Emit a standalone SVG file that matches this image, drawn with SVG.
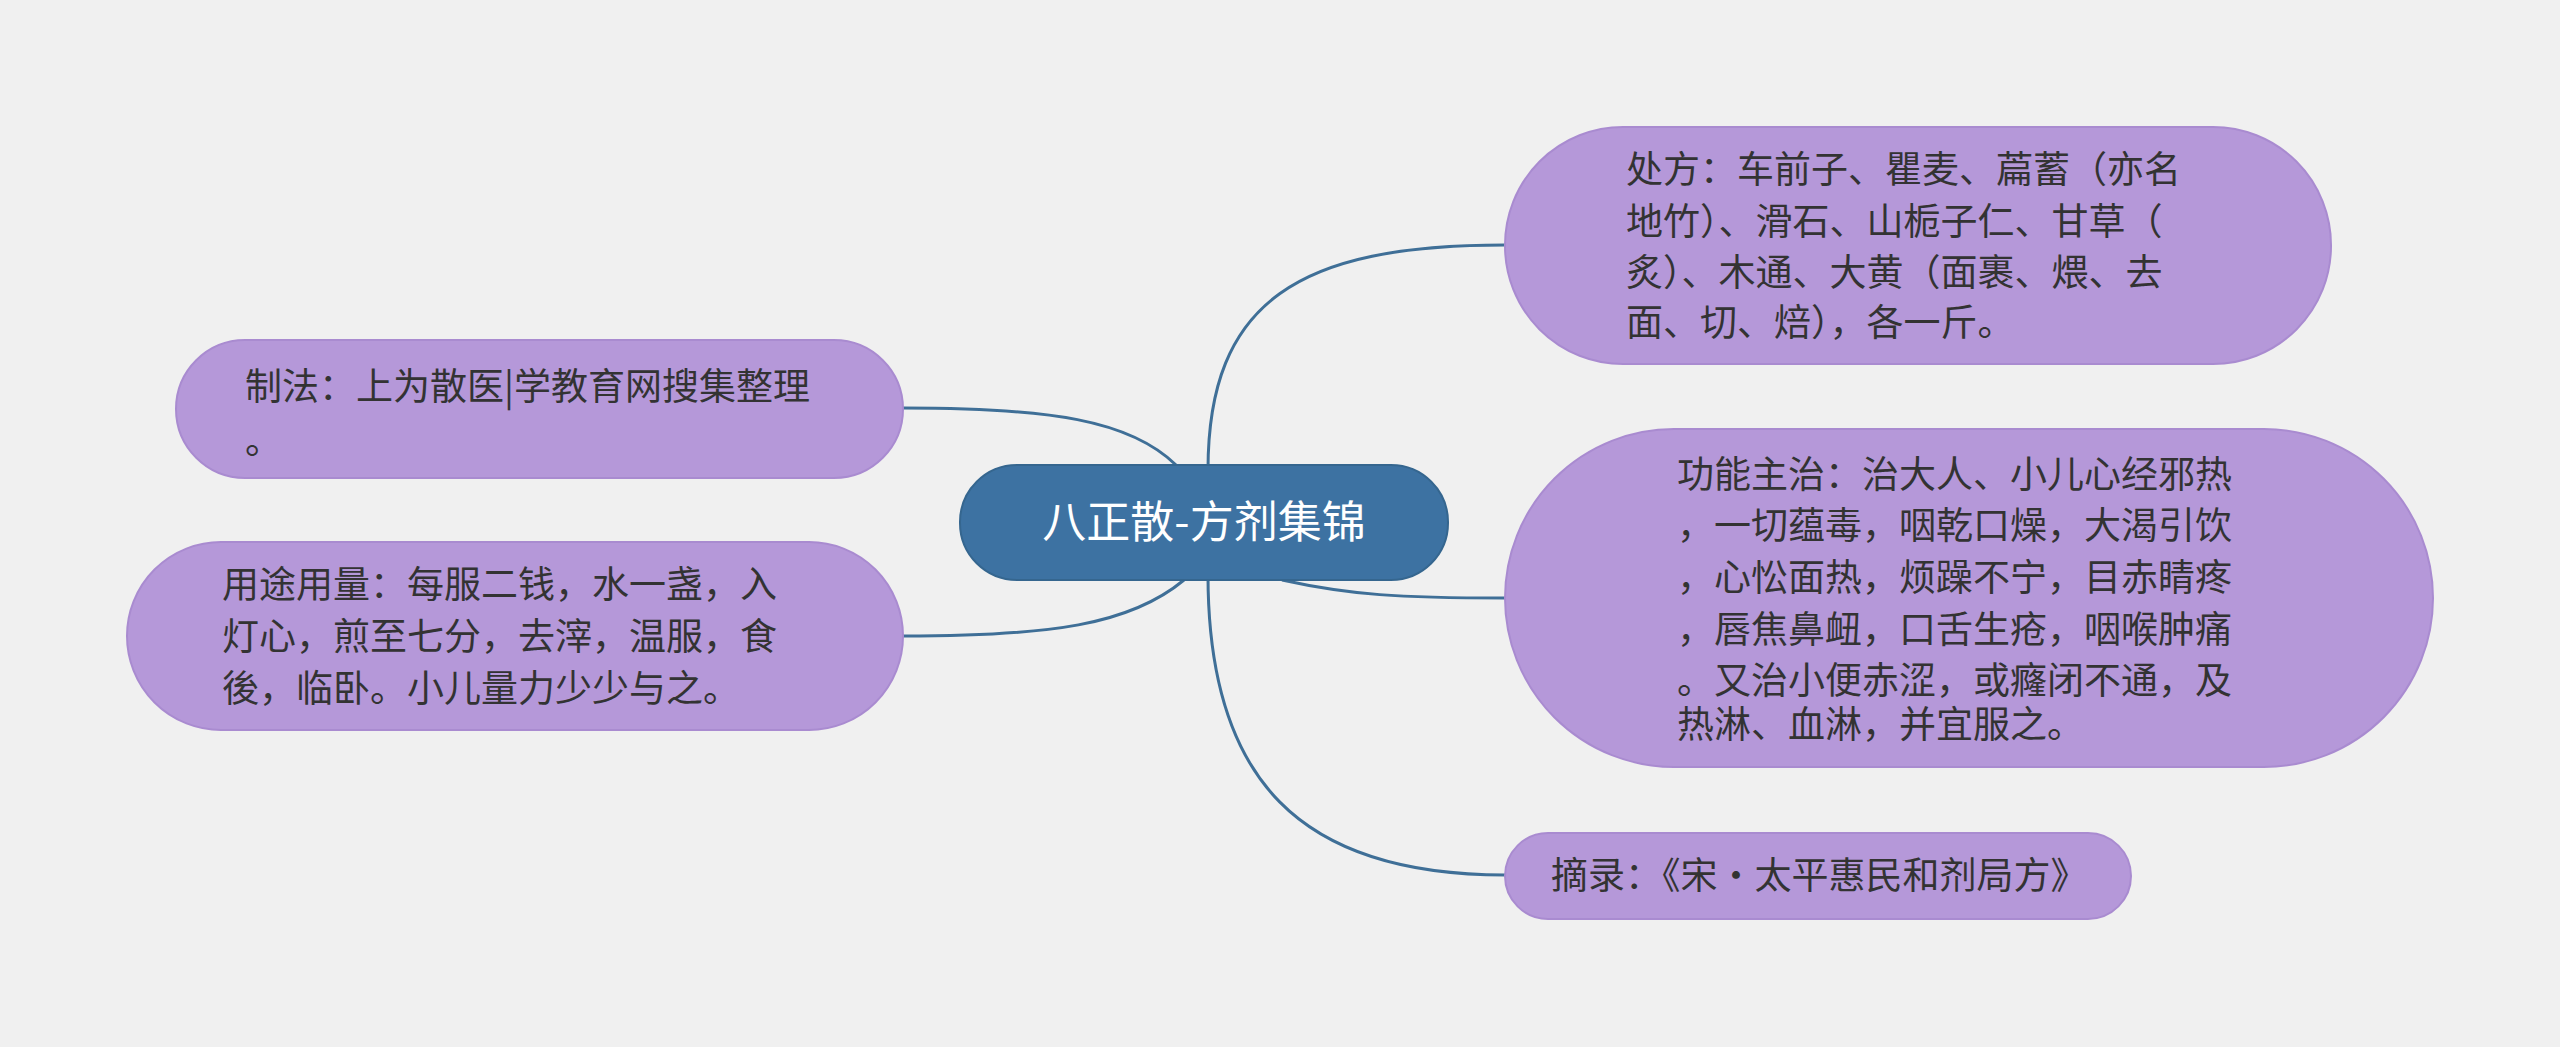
<svg xmlns="http://www.w3.org/2000/svg" width="2560" height="1047" viewBox="0 0 2560 1047">
<style>
.n{fill:#b598d9;stroke:#a98bd0;stroke-width:2}
.t{font-family:"Noto Sans CJK SC","Noto Sans",sans-serif;font-size:37px;fill:#333}
.c{fill:none;stroke:#3f6f97;stroke-width:3}
</style>
<rect width="2560" height="1047" fill="#f0f0f0"/>
<g id="connectors">
<path class="c" d="M1208,470 C1208,300 1300,245 1505,245"/>
<path class="c" d="M1282,580 C1350,595 1400,598 1505,598"/>
<path class="c" d="M1208,575 C1208,780 1300,875 1505,875"/>
<path class="c" d="M1176,465 C1130,420 1050,408 903,408"/>
<path class="c" d="M1184,580 C1130,625 1050,636 903,636"/>
</g>
<g id="center">
<rect x="960" y="465" width="488" height="115" rx="57" fill="#3d72a2" stroke="#35668f" stroke-width="2"/>
<text x="1204" y="538" text-anchor="middle" font-family="Noto Sans CJK SC,sans-serif" font-size="44" fill="#fff">八正散-方剂集锦</text>
</g>
<g id="n1">
<rect class="n" x="1505" y="127" width="826" height="237" rx="118"/>
<text class="t"><tspan x="1626" y="183">处方：车前子、瞿麦、萹蓄（亦名</tspan><tspan x="1626" y="235">地竹）、滑石、山栀子仁、甘草（</tspan><tspan x="1626" y="286">炙）、木通、大黄（面裹、煨、去</tspan><tspan x="1626" y="336">面、切、焙），各一斤。</tspan></text>
</g>
<g id="n2">
<rect class="n" x="1505" y="429" width="928" height="338" rx="169"/>
<text class="t"><tspan x="1677" y="488">功能主治：治大人、小儿心经邪热</tspan><tspan x="1677" y="539">，一切蕴毒，咽乾口燥，大渴引饮</tspan><tspan x="1677" y="591">，心忪面热，烦躁不宁，目赤睛疼</tspan><tspan x="1677" y="643">，唇焦鼻衄，口舌生疮，咽喉肿痛</tspan><tspan x="1677" y="694">。又治小便赤涩，或癃闭不通，及</tspan><tspan x="1677" y="738">热淋、血淋，并宜服之。</tspan></text>
</g>
<g id="n3">
<rect class="n" x="1505" y="833" width="626" height="86" rx="43"/>
<text class="t" x="1551" y="889">摘录：《宋·太平惠民和剂局方》</text>
</g>
<g id="n4">
<rect class="n" x="176" y="340" width="727" height="138" rx="69"/>
<text class="t"><tspan x="245" y="400">制法：上为散医|学教育网搜集整理</tspan><tspan x="245" y="454">。</tspan></text>
</g>
<g id="n5">
<rect class="n" x="127" y="542" width="776" height="188" rx="94"/>
<text class="t"><tspan x="222" y="598">用途用量：每服二钱，水一盏，入</tspan><tspan x="222" y="650">灯心，煎至七分，去滓，温服，食</tspan><tspan x="222" y="702">後，临卧。小儿量力少少与之。</tspan></text>
</g>
</svg>
